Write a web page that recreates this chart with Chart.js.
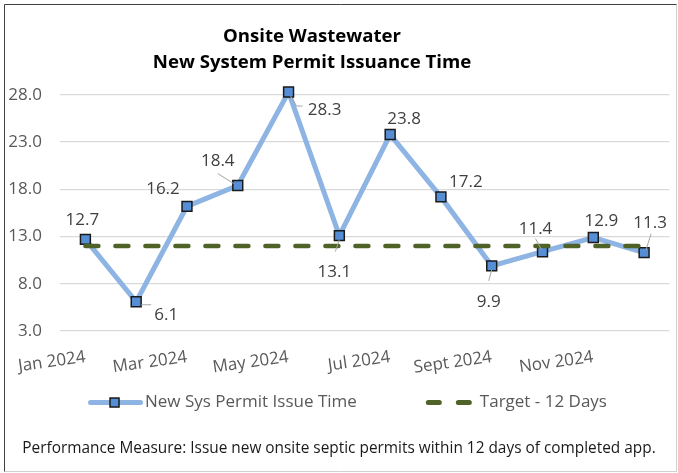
<!DOCTYPE html>
<html>
<head>
<meta charset="utf-8">
<script src="https://cdn.jsdelivr.net/npm/chart.js@4.4.1/dist/chart.umd.min.js"></script>
<style>
  html, body { margin: 0; padding: 0; background: #fff; }
  #wrap { width: 678px; height: 473px; position: relative; }
</style>
</head>
<body>
<div id="wrap"><canvas id="chart"></canvas></div>
<script>
const months = ['Jan 2024', 'Feb 2024', 'Mar 2024', 'Apr 2024', 'May 2024', 'Jun 2024',
  'Jul 2024', 'Aug 2024', 'Sept 2024', 'Oct 2024', 'Nov 2024', 'Dec 2024'];
const issueTime = [12.7, 6.1, 16.2, 18.4, 28.3, 13.1, 23.8, 17.2, 9.9, 11.4, 12.9, 11.3];
const target = [12, 12, 12, 12, 12, 12, 12, 12, 12, 12, 12, 12];
const yTicks = [3, 8, 13, 18, 23, 28];
const seriesNames = ['New Sys Permit Issue Time', 'Target - 12 Days'];
const titleLines = ['Onsite Wastewater', 'New System Permit Issuance Time'];
const footnote = 'Performance Measure: Issue new onsite septic permits within 12 days of completed app.';

const FONT = "'Open Sans', 'Noto Sans', sans-serif";

// where each value label sits relative to its point, plus leader lines (Excel style)
const labelPlace = [
  { dx: -3, dy: -19 },
  { dx: 30, dy: 13, leader: [[5, 3], [15, 3]] },
  { dx: -24, dy: -17 },
  { dx: -20, dy: -24, leader: [[-20, -12], [-4, -2]] },
  { dx: 36, dy: 18, leader: [[2, 4], [8, 14], [14, 14]] },
  { dx: -5, dy: 37, leader: [[0, 4], [-4, 16]] },
  { dx: 14, dy: -15 },
  { dx: 25, dy: -15 },
  { dx: -3, dy: 36, leader: [[0, 4], [-3, 15]] },
  { dx: -7, dy: -23, leader: [[-7, -13], [-1, -2]] },
  { dx: 8, dy: -16 },
  { dx: 6, dy: -29, leader: [[7, -19], [2, -3]] }
];

// white background, frame and the two line title
const framePlugin = {
  id: 'frame',
  afterLayout(chart) {
    // the x axis box is kept short so the legend sits close; let its labels overflow
    chart.scales.x.bottom = chart.height;
  },
  beforeDraw(chart) {
    const ctx = chart.ctx;
    ctx.save();
    ctx.fillStyle = '#fff';
    ctx.fillRect(0, 0, chart.width, chart.height);
    ctx.restore();
  },
  afterDraw(chart) {
    const ctx = chart.ctx;
    ctx.save();
    ctx.lineWidth = 1;
    ctx.strokeStyle = '#d0d0d0';
    ctx.beginPath();
    ctx.moveTo(4.5, 471.5);
    ctx.lineTo(676.5, 471.5);
    ctx.lineTo(676.5, 4.5);
    ctx.stroke();
    ctx.strokeStyle = '#404040';
    ctx.beginPath();
    ctx.moveTo(4.5, 471.5);
    ctx.lineTo(4.5, 4.5);
    ctx.lineTo(676.5, 4.5);
    ctx.stroke();

    ctx.fillStyle = '#000';
    ctx.font = 'bold 18.6px ' + FONT;
    ctx.textAlign = 'center';
    ctx.textBaseline = 'middle';
    titleLines.forEach((t, i) => ctx.fillText(t, 312, 37 + i * 26));
    ctx.restore();
  }
};

const valueLabels = {
  id: 'valueLabels',
  afterDatasetsDraw(chart) {
    const ctx = chart.ctx;
    const meta = chart.getDatasetMeta(0);
    ctx.save();
    ctx.font = '17px ' + FONT;
    ctx.fillStyle = '#404040';
    ctx.textAlign = 'center';
    ctx.textBaseline = 'middle';
    meta.data.forEach((pt, i) => {
      const p = labelPlace[i];
      if (p.leader) {
        ctx.strokeStyle = '#a6a6a6';
        ctx.lineWidth = 1;
        ctx.beginPath();
        p.leader.forEach(([lx, ly], k) => {
          if (k === 0) ctx.moveTo(pt.x + lx, pt.y + ly);
          else ctx.lineTo(pt.x + lx, pt.y + ly);
        });
        ctx.stroke();
      }
      ctx.fillText(issueTime[i].toFixed(1), pt.x + p.dx, pt.y + p.dy);
    });
    ctx.restore();
  }
};

const LEGEND_BOX = 65.5;

// legend symbols drawn into the (blank) legend boxes
const legendSymbols = {
  id: 'legendSymbols',
  afterDraw(chart) {
    const boxes = chart.legend.legendHitBoxes;
    const ctx = chart.ctx;
    ctx.save();
    const b0 = boxes[0];
    const y0 = b0.top + b0.height / 2;
    const end0 = b0.left + LEGEND_BOX + 4;
    ctx.strokeStyle = '#8db4e2';
    ctx.lineWidth = 5;
    ctx.lineCap = 'round';
    ctx.beginPath();
    ctx.moveTo(end0 - 50, y0);
    ctx.lineTo(end0, y0);
    ctx.stroke();
    ctx.fillStyle = '#558ed5';
    ctx.strokeStyle = '#1a1a1a';
    ctx.lineWidth = 1.5;
    ctx.fillRect(end0 - 26 - 4.5, y0 - 4.5, 9, 9);
    ctx.strokeRect(end0 - 26 - 4.5, y0 - 4.5, 9, 9);

    const b1 = boxes[1];
    const y1 = b1.top + b1.height / 2;
    const end1 = b1.left + LEGEND_BOX - 2;
    ctx.strokeStyle = '#4f6228';
    ctx.lineWidth = 5;
    ctx.lineCap = 'round';
    ctx.setLineDash([11, 19]);
    ctx.beginPath();
    ctx.moveTo(end1 - 41, y1);
    ctx.lineTo(end1, y1);
    ctx.stroke();
    ctx.restore();
  }
};

const ctx = document.getElementById('chart').getContext('2d');
new Chart(ctx, {
  type: 'line',
  data: {
    labels: months,
    datasets: [
      {
        label: seriesNames[0],
        data: issueTime,
        borderColor: '#8db4e2',
        borderWidth: 5,
        pointStyle: 'rect',
        pointRadius: 7,
        pointHoverRadius: 7,
        pointBackgroundColor: '#558ed5',
        pointBorderColor: '#1a1a1a',
        pointBorderWidth: 1.5,
        tension: 0,
        order: 2
      },
      {
        label: seriesNames[1],
        data: target,
        borderColor: '#4f6228',
        borderWidth: 4.5,
        borderDash: [13, 17],
        borderCapStyle: 'round',
        pointRadius: 0,
        tension: 0,
        order: 1
      }
    ]
  },
  options: {
    responsive: true,
    maintainAspectRatio: false,
    animation: false,
    layout: { padding: { top: 76, left: 0, right: 0, bottom: 0 } },
    plugins: {
      tooltip: { enabled: false },
      title: { display: false },
      legend: {
        position: 'bottom',
        align: 'center',
        labels: {
          boxWidth: LEGEND_BOX,
          padding: 49,
          color: '#595959',
          font: { family: FONT, size: 17 },
          generateLabels: (chart) => chart.data.datasets.map((ds, i) => ({
            text: ds.label,
            fillStyle: 'rgba(0,0,0,0)',
            strokeStyle: 'rgba(0,0,0,0)',
            lineWidth: 0,
            fontColor: '#595959',
            datasetIndex: i
          }))
        }
      },
      subtitle: {
        display: true,
        text: footnote,
        position: 'bottom',
        align: 'center',
        color: '#1a1a1a',
        font: { family: FONT, size: 15.4, weight: 'normal' },
        padding: { top: 18, bottom: 15.5 }
      }
    },
    scales: {
      x: {
        offset: true,
        grid: { display: false },
        border: { display: false },
        afterFit: (scale) => { scale.height = 14; },
        ticks: {
          autoSkip: false,
          minRotation: 8,
          maxRotation: 8,
          padding: 8,
          color: '#595959',
          font: { family: FONT, size: 17 },
          callback: function (value, index) {
            return index % 2 === 0 ? months[index] : '';
          }
        }
      },
      y: {
        min: 3,
        max: 30,
        afterBuildTicks: (axis) => { axis.ticks = yTicks.map(v => ({ value: v })); },
        afterFit: (scale) => { scale.width = 60; },
        grid: { color: '#d9d9d9', lineWidth: 1.3, drawTicks: false },
        border: { display: false },
        ticks: {
          padding: 18,
          color: '#595959',
          font: { family: FONT, size: 17 },
          callback: (v) => v.toFixed(1)
        }
      }
    }
  },
  plugins: [framePlugin, valueLabels, legendSymbols]
});
</script>
</body>
</html>
